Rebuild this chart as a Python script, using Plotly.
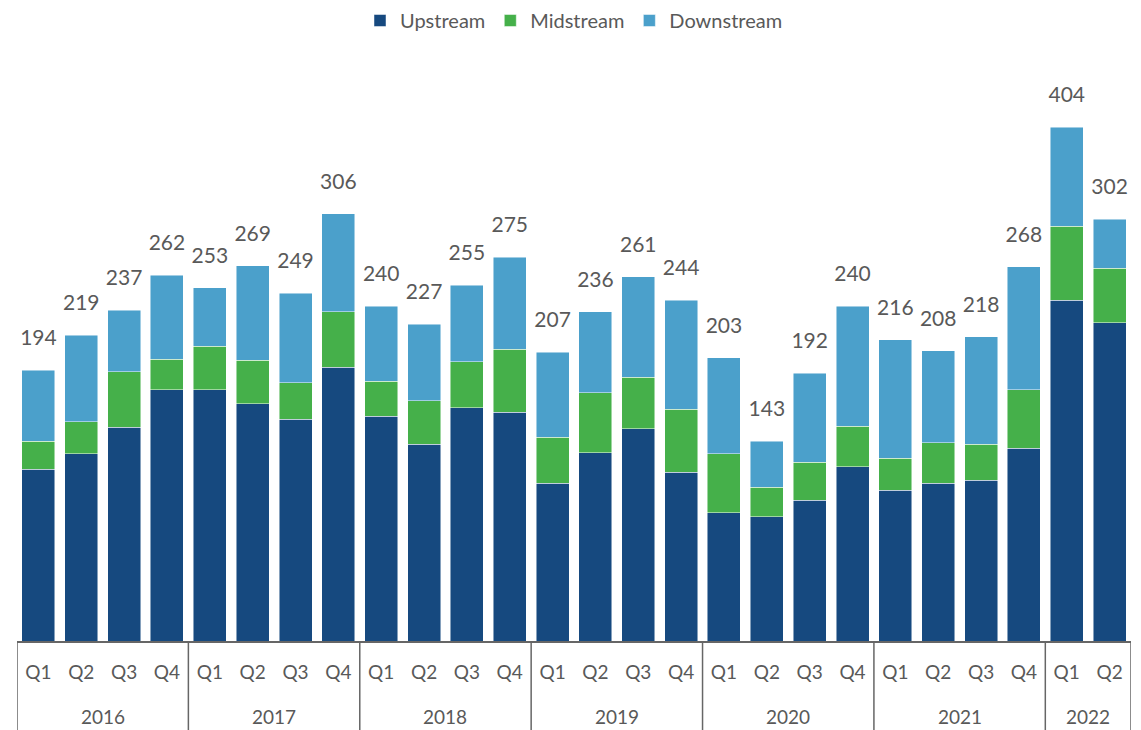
import plotly.graph_objects as go

years = ["2016"] * 4 + ["2017"] * 4 + ["2018"] * 4 + ["2019"] * 4 + ["2020"] * 4 + ["2021"] * 4 + ["2022"] * 2
quarters = ["Q1", "Q2", "Q3", "Q4"] * 6 + ["Q1", "Q2"]

upstream = [123, 134, 153, 180, 180, 170, 159, 196, 161, 141, 167, 164,
            113, 135, 152, 121, 92, 89, 101, 125, 108, 113, 115, 138, 244, 228]
midstream = [20, 23, 40, 22, 31, 31, 26, 40, 25, 31, 33, 45,
             33, 43, 37, 45, 42, 21, 27, 29, 23, 29, 26, 42, 53, 39]
downstream = [51, 62, 44, 60, 42, 68, 64, 70, 54, 55, 55, 66,
              61, 58, 72, 78, 69, 33, 64, 86, 85, 66, 77, 88, 71, 35]
totals = [194, 219, 237, 262, 253, 269, 249, 306, 240, 227, 255, 275,
          207, 236, 261, 244, 203, 143, 192, 240, 216, 208, 218, 268, 404, 302]

n = len(quarters)
xi = list(range(n))
stack_top = [u + m + d for u, m, d in zip(upstream, midstream, downstream)]

FONT = "Lato, 'Open Sans', sans-serif"
GREY = "#595959"
LINE = "#666666"
edge = dict(color="rgba(255,255,255,0.6)", width=0.8)

# page body has an 8px margin, so the figure is sized to fit the window
W, H = 1133, 722
ML, MR, MT, MB = 9, 10, 42, 89
PH = H - MT - MB

fig = go.Figure()
fig.add_trace(go.Bar(name="Upstream", x=xi, y=upstream, marker=dict(color="#16497F", line=edge)))
fig.add_trace(go.Bar(name="Midstream", x=xi, y=midstream, marker=dict(color="#45B04A", line=edge)))
fig.add_trace(go.Bar(name="Downstream", x=xi, y=downstream, marker=dict(color="#4BA0CB", line=edge)))
fig.add_trace(go.Scatter(
    x=xi, y=stack_top, mode="markers+text", text=[str(t) for t in totals],
    textposition="top center", textfont=dict(size=21, color=GREY, family=FONT),
    marker=dict(size=30, color="rgba(0,0,0,0)"), showlegend=False, hoverinfo="skip",
    cliponaxis=False,
))

# group boundaries and year labels
groups = []
start = 0
for i in range(1, n + 1):
    if i == n or years[i] != years[start]:
        groups.append((years[start], start, i - 1))
        start = i

shapes = []
annotations = []
for yr, a, b in groups:
    annotations.append(dict(x=(a + b) / 2, y=-75 / PH, xref="x", yref="paper", text=yr,
                            showarrow=False, yanchor="middle", font=dict(size=19, color=GREY, family=FONT)))
bounds = [g[1] - 0.5 for g in groups] + [n - 0.5]
for bx in bounds:
    shapes.append(dict(type="line", xref="x", yref="paper", x0=bx, x1=bx, y0=0, y1=-MB / PH,
                       line=dict(color=LINE, width=1.5)))

fig.update_layout(
    width=W, height=H,
    barmode="stack", bargap=0.23,
    plot_bgcolor="white", paper_bgcolor="white",
    margin=dict(l=ML, r=MR, t=MT, b=MB, autoexpand=False),
    font=dict(family=FONT, size=19, color=GREY),
    showlegend=True,
    legend=dict(orientation="h", x=0.5, xanchor="center", yref="paper", y=1 + 29.5 / PH, yanchor="middle",
                font=dict(size=20, color=GREY), traceorder="normal", borderwidth=0),
    xaxis=dict(range=[-0.5, n - 0.5], tickmode="array", tickvals=xi, ticktext=quarters,
               showline=True, linecolor=LINE, linewidth=1.5, ticks="", showgrid=False, zeroline=False,
               tickfont=dict(size=19, color=GREY), ticklabelstandoff=13, automargin=False),
    yaxis=dict(visible=False, range=[0, 423.4], showgrid=False, zeroline=False),
    shapes=shapes, annotations=annotations,
)

fig.write_html("out.html")
